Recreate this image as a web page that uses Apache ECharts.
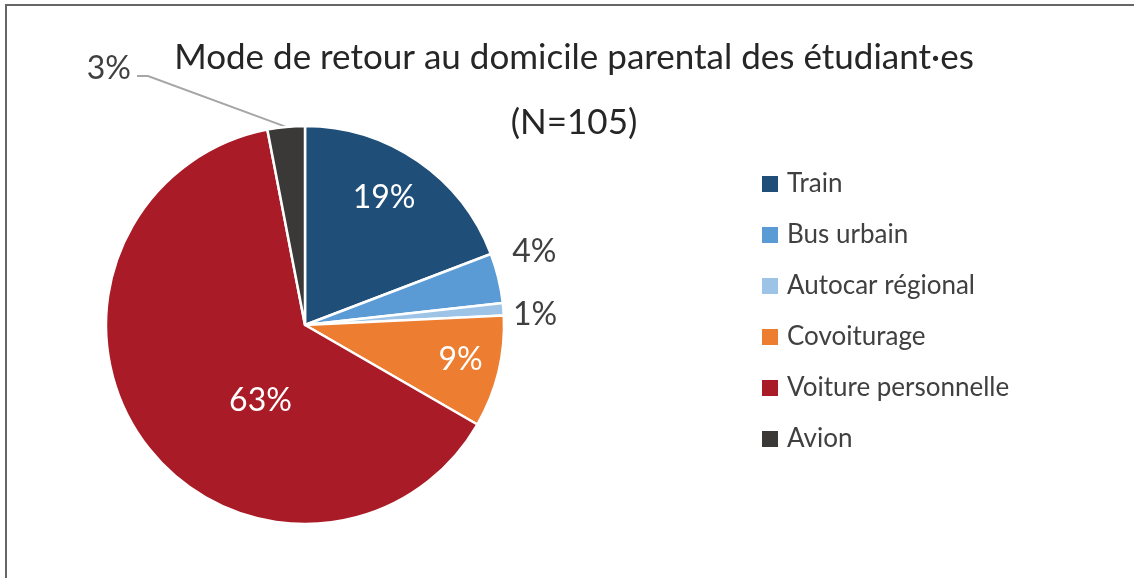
<!DOCTYPE html>
<html>
<head>
<meta charset="utf-8">
<script src="https://cdn.jsdelivr.net/npm/echarts@6/dist/echarts.min.js"></script>
<style>
  html, body { margin: 0; padding: 0; background: #fff; }
  #chart { width: 1134px; height: 578px; }
</style>
</head>
<body>
<div id="chart"></div>
<script>
  // parts du mode de retour (en %)
  var categories = ['Train', 'Bus urbain', 'Autocar régional', 'Covoiturage', 'Voiture personnelle', 'Avion'];
  var values = [19, 4, 1, 9, 63, 3];
  var colors = ['#1F4E79', '#5B9BD5', '#9DC3E6', '#ED7D31', '#A91B26', '#3A3938'];
  var insideLabel = [true, false, false, true, true, false];

  // petits décalages des étiquettes, façon Excel
  var labelShift = [[21, -43], [3, -25], [3, 4], [56, 11], [39, 16], [0, 0]];

  var chart = echarts.init(document.getElementById('chart'));

  var pieData = categories.map(function (name, i) {
    var item = {
      name: name,
      value: values[i],
      itemStyle: { color: colors[i] }
    };
    if (insideLabel[i]) {
      item.label = { position: 'inside', color: '#fff' };
    } else {
      item.label = { position: 'outside', color: '#404040' };
      item.labelLine = { show: i === 5, length: 6, length2: 0 };
    }
    return item;
  });

  var option = {
    backgroundColor: '#fff',
    animation: false,
    graphic: [{
      type: 'rect',
      shape: { x: 6, y: 5, width: 1200, height: 700 },
      style: { fill: 'none', stroke: '#666', lineWidth: 2 }
    }],
    title: {
      text: 'Mode de retour au domicile parental des étudiant·es\n(N=105)',
      left: 569,
      textAlign: 'center',
      top: 20,
      padding: 5,
      textStyle: {
        fontFamily: 'Lato',
        fontSize: 35,
        fontWeight: 'normal',
        color: '#262626',
        lineHeight: 65
      }
    },
    legend: {
      orient: 'vertical',
      left: 755,
      top: 166,
      icon: 'rect',
      itemWidth: 18,
      itemHeight: 18,
      itemGap: 25,
      data: categories,
      textStyle: {
        fontFamily: 'Lato',
        fontSize: 26,
        color: '#404040',
        lineHeight: 26,
        padding: [0, 0, 0, 3]
      }
    },
    series: [{
      type: 'pie',
      center: [305, 325],
      radius: 199,
      startAngle: 90,
      clockwise: true,
      itemStyle: { borderColor: '#fff', borderWidth: 2.5 },
      label: {
        formatter: '{c}%',
        fontFamily: 'Lato',
        fontSize: 32
      },
      labelLine: {
        lineStyle: { color: '#A6A6A6', width: 2 }
      },
      labelLayout: function (params) {
        var i = params.dataIndex;
        if (i === 5) {
          var start = params.labelLinePoints ? params.labelLinePoints[0] : [286, 127];
          return {
            x: 131, y: 69, align: 'right', verticalAlign: 'middle',
            labelLinePoints: [start, [148, 76], [137, 76]]
          };
        }
        return { dx: labelShift[i][0], dy: labelShift[i][1] };
      },
      data: pieData
    }]
  };

  chart.setOption(option);
  window.addEventListener('resize', function () {
    chart.resize();
  });
</script>
</body>
</html>
